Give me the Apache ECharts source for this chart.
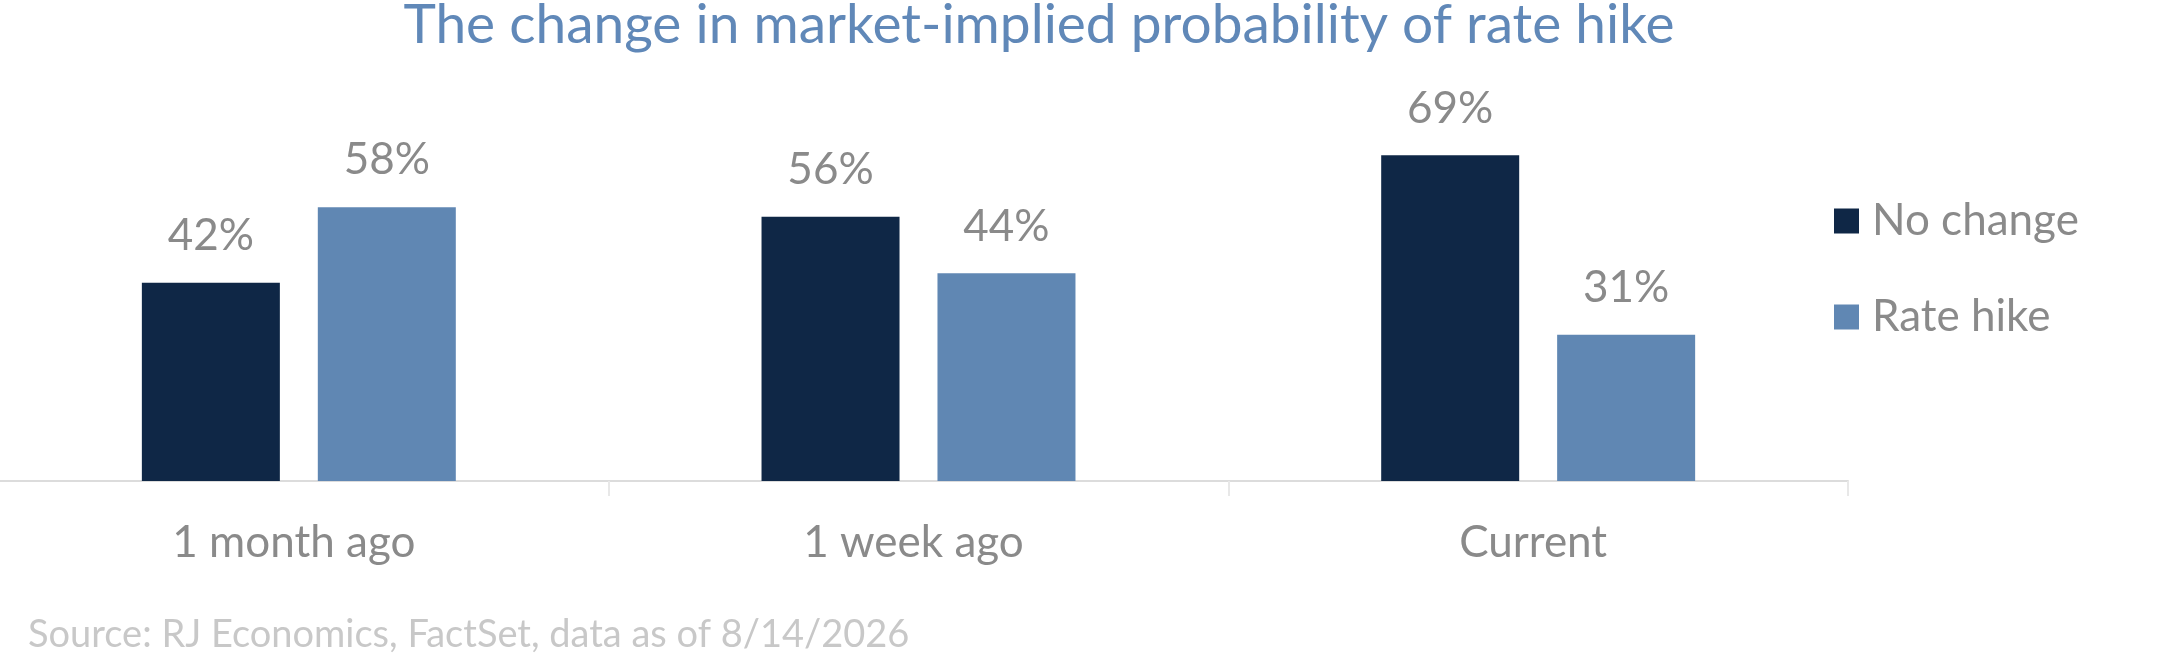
<!DOCTYPE html>
<html>
<head>
<meta charset="utf-8">
<script src="https://cdn.jsdelivr.net/npm/echarts@6/dist/echarts.min.js"></script>
<style>
  html, body { margin: 0; padding: 0; background: #fff; overflow: hidden; }
  /* the axis starts a little left of the page edge */
  #chart { position: absolute; left: -11px; top: 0; width: 2173px; height: 658px; }
</style>
</head>
<body>
<div id="chart"></div>
<script>
var categories = ['1 month ago', '1 week ago', 'Current'];
var noChange = [42, 56, 69];
var rateHike = [58, 44, 31];
var seriesNames = ['No change', 'Rate hike'];

var font = 'Lato';
var myChart = echarts.init(document.getElementById('chart'));

var labelStyle = {
  show: true,
  position: 'top',
  distance: 25,
  color: '#8a8a8a',
  fontFamily: font,
  fontSize: 44,
  formatter: '{c}%'
};

var option = {
  animation: false,
  title: {
    text: 'The change in market-implied probability of rate hike',
    left: 1045,
    textAlign: 'center',
    top: -7,
    textStyle: {
      color: '#6088b8',
      fontFamily: font,
      fontWeight: 'normal',
      fontSize: 55
    }
  },
  legend: {
    orient: 'vertical',
    left: 1845,
    top: 199,
    padding: 0,
    itemWidth: 25,
    itemHeight: 25,
    itemGap: 52,
    icon: 'rect',
    textStyle: {
      color: '#8a8a8a',
      fontFamily: font,
      fontSize: 44,
      padding: [0, 0, 0, 8]
    },
    data: seriesNames
  },
  grid: {
    left: 0,
    width: 1859,
    top: 9,
    height: 472
  },
  xAxis: {
    type: 'category',
    data: categories,
    axisLine: { lineStyle: { color: '#dcdcdc', width: 2 } },
    axisTick: { show: true, length: 15, lineStyle: { color: '#e8e8e8', width: 2 } },
    axisLabel: {
      color: '#8a8a8a',
      fontFamily: font,
      fontSize: 44,
      margin: 40,
      padding: [0, 10, 0, 0]
    }
  },
  yAxis: {
    type: 'value',
    min: 0,
    max: 100,
    show: false,
    splitLine: { show: false }
  },
  graphic: [{
    type: 'text',
    left: 39,
    top: 616,
    style: {
      text: 'Source: RJ Economics, FactSet, data as of 8/14/2026',
      fill: '#c8c8c8',
      font: '38px ' + font
    }
  }],
  color: ['#0f2746', '#6087b3'],
  series: [
    {
      name: seriesNames[0],
      type: 'bar',
      data: noChange,
      barWidth: 138,
      barGap: '27.5%',
      label: labelStyle
    },
    {
      name: seriesNames[1],
      type: 'bar',
      data: rateHike,
      barWidth: 138,
      barGap: '27.5%',
      label: labelStyle
    }
  ]
};
myChart.setOption(option);
window.addEventListener('resize', function () {
  myChart.resize();
});
</script>
</body>
</html>
